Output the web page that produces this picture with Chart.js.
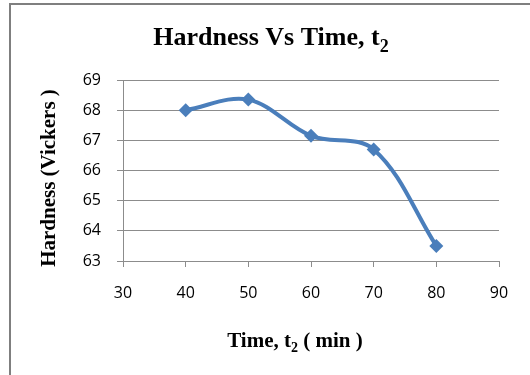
<!DOCTYPE html>
<html lang="en">
<head>
  <meta charset="UTF-8" />
  <title>Hardness Vs Time</title>
  <script src="https://cdn.jsdelivr.net/npm/chart.js"></script>
  <style>
    html, body { margin: 0; padding: 0; background: #fff; }
    #wrap { position: relative; width: 530px; height: 375px; }
  </style>
</head>
<body>
  <div id="wrap"><canvas id="hardChart" width="530" height="375"></canvas></div>

  <script>
    // data
    const timeMin = [40, 50, 60, 70, 80];
    const hardness = [68.0, 68.35, 67.15, 66.7, 63.5];
    const xTicks = [30, 40, 50, 60, 70, 80, 90];
    const yTicks = [63, 64, 65, 66, 67, 68, 69];

    const lineBlue = '#4a7ebb';
    const gridGrey = '#8c8c8c';

    // draw text made of [text, isSub] pieces, centred on x
    function richText(ctx, parts, cx, cy, size) {
      const big = 'bold ' + size + 'px "Liberation Serif", "Times New Roman", serif';
      const small = 'bold ' + Math.round(size * 0.68) + 'px "Liberation Serif", "Times New Roman", serif';
      let total = 0;
      parts.forEach(p => { ctx.font = p[1] ? small : big; total += ctx.measureText(p[0]).width; });
      let x = cx - total / 2;
      ctx.textBaseline = 'alphabetic';
      ctx.textAlign = 'left';
      parts.forEach(p => {
        ctx.font = p[1] ? small : big;
        ctx.fillText(p[0], x, cy + (p[1] ? size * 0.25 : 0));
        x += ctx.measureText(p[0]).width;
      });
    }

    const frameAndTitles = {
      id: 'frameAndTitles',
      beforeDraw(chart) {
        const ctx = chart.ctx;
        ctx.save();
        ctx.fillStyle = '#fff';
        ctx.fillRect(0, 0, chart.width, chart.height);
        ctx.strokeStyle = '#7f7f7f';
        ctx.lineWidth = 2;
        ctx.strokeRect(10, 4, 600, 500);
        ctx.restore();
      },
      afterDraw(chart) {
        const ctx = chart.ctx;
        ctx.save();
        ctx.fillStyle = '#000';
        richText(ctx, [['Hardness Vs Time, t', false], ['2', true]], 271, 45, 26);
        richText(ctx, [['Time, t', false], ['2', true], [' ( min )', false]], 295, 347, 21);
        ctx.translate(55, 178);
        ctx.rotate(-Math.PI / 2);
        richText(ctx, [['Hardness (Vickers )', false]], 0, 0, 21);
        ctx.restore();
      }
    };

    new Chart(document.getElementById('hardChart'), {
      type: 'line',
      data: {
        datasets: [{
          data: timeMin.map((t, i) => ({ x: t, y: hardness[i] })),
          borderColor: lineBlue,
          backgroundColor: lineBlue,
          borderWidth: 4,
          pointStyle: 'rectRot',
          pointRadius: 7,
          pointBorderWidth: 0,
          tension: 0.35
        }]
      },
      options: {
        responsive: false,
        animation: false,
        layout: { padding: { top: 80, right: 31, bottom: 0, left: 0 } },
        plugins: { legend: { display: false }, tooltip: { enabled: false } },
        scales: {
          x: {
            type: 'linear',
            min: 30, max: 90,
            afterBuildTicks: s => { s.ticks = xTicks.map(v => ({ value: v })); },
            afterFit: s => { s.height = 114; },
            grid: { drawOnChartArea: false, color: gridGrey, tickLength: 6 },
            border: { color: gridGrey },
            ticks: { color: '#000', padding: 17, font: { family: '"Open Sans", "Liberation Sans", sans-serif', size: 16 } }
          },
          y: {
            min: 63, max: 69,
            afterBuildTicks: s => { s.ticks = yTicks.map(v => ({ value: v })); },
            afterFit: s => { s.width = 123; },
            grid: { color: gridGrey, tickLength: 6 },
            border: { color: gridGrey },
            ticks: { color: '#000', padding: 16, font: { family: '"Open Sans", "Liberation Sans", sans-serif', size: 16 } }
          }
        }
      },
      plugins: [frameAndTitles]
    });
  </script>
</body>
</html>
